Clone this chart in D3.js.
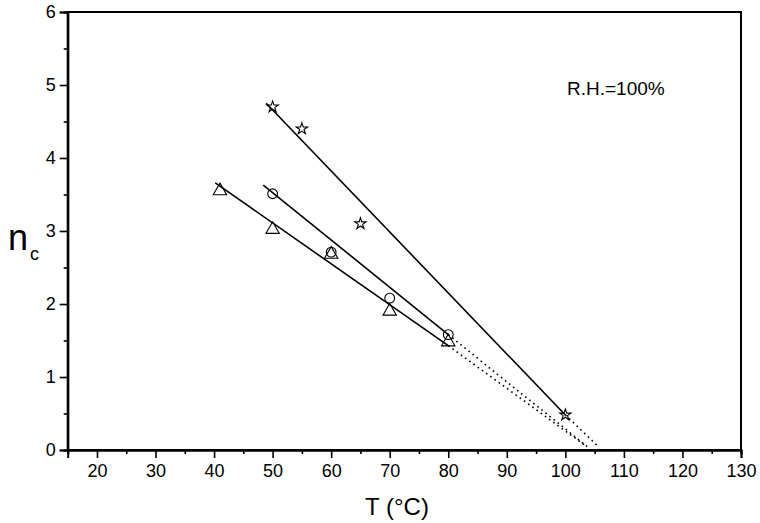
<!DOCTYPE html>
<html>
<head>
<meta charset="utf-8">
<script src="https://cdn.jsdelivr.net/npm/d3@7"></script>
<style>
  body { margin: 0; background: #fff; }
  svg { font-family: Arial, "Liberation Sans", sans-serif; }
  .tick text { font-size: 18px; fill: #000; }
</style>
</head>
<body>
<div id="chart"></div>
<script>
// measured points, three data sets
const tempStar = [50, 55, 65, 100];
const ncStar = [4.70, 4.40, 3.10, 0.48];
const tempCircle = [50, 60, 70, 80];
const ncCircle = [3.51, 2.71, 2.08, 1.58];
const tempTri = [41, 50, 60, 70, 80];
const ncTri = [3.55, 3.02, 2.68, 1.90, 1.48];

// fitted lines: solid part, then dotted extrapolation to n_c = 0
const fitStar = [[48.9, 4.75], [100, 0.48]];
const extStar = [[100, 0.48], [105.6, 0.05]];
const fitCircle = [[48.4, 3.63], [80, 1.58]];
const extCircle = [[80, 1.58], [104, 0.03]];
const fitTri = [[40.2, 3.66], [80, 1.43]];
const extTri = [[80, 1.43], [103.6, 0.05]];

const xTicks = [20, 30, 40, 50, 60, 70, 80, 90, 100, 110, 120, 130];
const xMinor = [15, 25, 35, 45, 55, 65, 75, 85, 95, 105, 115, 125];
const yTicks = [0, 1, 2, 3, 4, 5, 6];
const yMinor = [0.5, 1.5, 2.5, 3.5, 4.5, 5.5];

let w = 760, h = 523;
let padLeft = 67.7, padRight = 741, padTop = 12, padBottom = 450;

let svg = d3.select('#chart').append('svg')
    .attr('width', w).attr('height', h);

let x = d3.scaleLinear().domain([15, 130]).range([padLeft, padRight]);
let y = d3.scaleLinear().domain([0, 6]).range([padBottom, padTop]);

let line = d3.line().x(d => x(d[0])).y(d => y(d[1]));

// frame
svg.append('rect')
    .attr('x', padLeft).attr('y', padTop)
    .attr('width', padRight - padLeft).attr('height', padBottom - padTop)
    .attr('fill', 'none').attr('stroke', '#000').attr('stroke-width', 2);

// axes (major + minor, outward ticks)
svg.append('g').attr('transform', `translate(0,${padBottom})`)
    .call(d3.axisBottom(x).tickValues(xTicks).tickFormat(d3.format('d')).tickSize(8).tickPadding(6));
svg.append('g').attr('transform', `translate(0,${padBottom})`)
    .call(d3.axisBottom(x).tickValues(xMinor).tickSize(4).tickFormat(''));
svg.append('g').attr('transform', `translate(${padLeft},0)`)
    .call(d3.axisLeft(y).tickValues(yTicks).tickFormat(d3.format('d')).tickSize(8).tickPadding(4));
svg.append('g').attr('transform', `translate(${padLeft},0)`)
    .call(d3.axisLeft(y).tickValues(yMinor).tickSize(4).tickFormat(''));
svg.selectAll('.domain').attr('stroke', '#000').attr('stroke-width', 2);
svg.selectAll('.tick line').attr('stroke', '#000').attr('stroke-width', 1.6);
svg.selectAll('.tick text').style('font-family', 'Arial, "Liberation Sans", sans-serif');

// fitted lines
for (let seg of [fitStar, fitCircle, fitTri]) {
    svg.append('path').datum(seg).attr('d', line)
        .attr('fill', 'none').attr('stroke', '#000').attr('stroke-width', 1.6);
}
for (let seg of [extStar, extCircle, extTri]) {
    svg.append('path').datum(seg).attr('d', line)
        .attr('fill', 'none').attr('stroke', '#000').attr('stroke-width', 1.6)
        .attr('stroke-dasharray', '1.6,3.6');
}

// markers
function drawMarkers(xs, ys, type, size) {
    let sym = d3.symbol().type(type).size(size);
    svg.append('g').selectAll('path').data(xs).join('path')
        .attr('transform', (d, i) => `translate(${x(d)},${y(ys[i])})`)
        .attr('d', sym)
        .attr('fill', 'none').attr('stroke', '#000').attr('stroke-width', 1.1);
}
drawMarkers(tempStar, ncStar, d3.symbolStar, 40);
drawMarkers(tempCircle, ncCircle, d3.symbolCircle, 75);
drawMarkers(tempTri, ncTri, d3.symbolTriangle, 78);

// labels
svg.append('text').attr('x', 397).attr('y', 515)
    .attr('text-anchor', 'middle').attr('font-size', 24).text('T (°C)');

let yl = svg.append('text').attr('x', 8).attr('y', 250).attr('font-size', 36);
yl.append('tspan').text('n');
yl.append('tspan').attr('font-size', 18).attr('dx', 2).attr('dy', 10).text('c');

svg.append('text').attr('x', 567).attr('y', 95)
    .attr('font-size', 19).text('R.H.=100%');
</script>
</body>
</html>
